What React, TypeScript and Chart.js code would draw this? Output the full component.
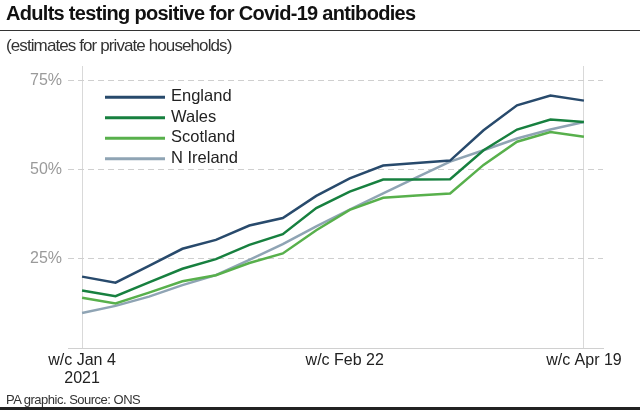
import React, { useEffect, useRef } from "react";
import { Chart, registerables } from "chart.js";

Chart.register(...registerables);

// Weekly survey periods (week commencing)
const weeks = [
  "Jan 4", "Jan 11", "Jan 18", "Jan 25", "Feb 1", "Feb 8", "Feb 15", "Feb 22",
  "Mar 1", "Mar 8", "Mar 15", "Mar 22", "Mar 29", "Apr 5", "Apr 12", "Apr 19",
];

// % of adults testing positive for antibodies
const england = [20.0, 18.3, 23.0, 27.8, 30.3, 34.3, 36.4, 42.6, 47.5, 51.1, 51.8, 52.5, 61.0, 68.0, 70.7, 69.3];
const wales = [16.1, 14.5, 18.4, 22.2, 24.9, 28.9, 31.9, 39.2, 43.8, 47.2, 47.2, 47.3, 55.4, 61.2, 64.0, 63.3];
const scotland = [14.1, 12.5, 15.5, 18.7, 20.4, 23.8, 26.5, 33.0, 38.7, 42.1, 42.7, 43.3, 51.3, 57.8, 60.5, 59.2];
const nIreland = [9.8, 11.8, 14.4, 17.6, 20.4, 24.7, 29.1, 34.1, 38.8, 43.3, 47.8, 52.2, 55.4, 58.7, 61.2, 63.3];

const seriesNames = ["England", "Wales", "Scotland", "N Ireland"];

// x-axis tick labels and where they sit (in weeks from Jan 4)
const xTickWeeks = [0, 7.85, 15];
const xTickLabels: (string | string[])[] = [["w/c Jan 4", "2021"], "w/c Feb 22", "w/c Apr 19"];
const yTicks = [25, 50, 75];

const FONT = "'Liberation Sans', Arial, sans-serif";
const COLORS = ["#284a6c", "#17803f", "#58b04c", "#8fa4b4"];

export default function App() {
  const ref = useRef<HTMLCanvasElement | null>(null);

  useEffect(() => {
    document.body.style.margin = "0";
    const canvas = ref.current;
    if (!canvas) return;

    const legendPlugin = {
      id: "inlineLegend",
      afterDatasetsDraw(chart: any) {
        const { ctx, chartArea } = chart;
        ctx.save();
        chart.data.datasets.forEach((ds: any, i: number) => {
          const y = chartArea.top + 31.3 + i * 20.5;
          ctx.strokeStyle = ds.borderColor;
          ctx.lineWidth = 3;
          ctx.beginPath();
          ctx.moveTo(chartArea.left + 37, y);
          ctx.lineTo(chartArea.left + 97, y);
          ctx.stroke();
          ctx.fillStyle = "#222";
          ctx.font = `16.5px ${FONT}`;
          ctx.textBaseline = "middle";
          ctx.textAlign = "left";
          ctx.fillText(ds.label, chartArea.left + 103, y - 0.5);
        });
        ctx.restore();
      },
    };

    const series = [england, wales, scotland, nIreland];
    const chart = new Chart(canvas, {
      type: "line",
      data: {
        datasets: series.map((vals, si) => ({
          label: seriesNames[si],
          data: vals.map((v, i) => ({ x: weeks.indexOf(weeks[i]), y: v })),
          borderColor: COLORS[si],
          backgroundColor: COLORS[si],
          borderWidth: 2.5,
          pointRadius: 0,
          tension: 0,
          fill: false,
        })),
      },
      options: {
        animation: false,
        responsive: false,
        devicePixelRatio: 1,
        layout: { padding: { top: 66, right: 37, left: 0, bottom: 0 } },
        plugins: {
          legend: { display: false },
          title: { display: false },
          tooltip: { enabled: false },
        },
        scales: {
          x: {
            type: "linear",
            min: -0.42,
            max: 15.57,
            afterBuildTicks: (s: any) => {
              s.ticks = xTickWeeks.map((v) => ({ value: v }));
            },
            afterFit: (s: any) => {
              s.height = 62;
            },
            ticks: {
              autoSkip: false,
              maxRotation: 0,
              padding: 4,
              color: "#222",
              font: { size: 16, family: FONT, lineHeight: 1.1 },
              callback: (_v: any, i: number) => xTickLabels[i],
            },
            grid: {
              drawTicks: false,
              color: (c: any) => (c.index === 1 ? "rgba(0,0,0,0)" : "#d9d9d9"),
              lineWidth: 1,
            },
            border: { display: true, color: "#d0d0d0" },
          },
          y: {
            min: 0,
            max: 79,
            afterBuildTicks: (s: any) => {
              s.ticks = yTicks.map((v) => ({ value: v }));
            },
            afterFit: (s: any) => {
              s.width = 68;
            },
            ticks: {
              padding: 6,
              color: "#9a9a9a",
              font: { size: 16, family: FONT },
              callback: (v: any) => `${v}%`,
            },
            grid: { drawTicks: false, color: "#cfcfcf", lineWidth: 1 },
            border: { display: false, dash: [6, 4] },
          },
        },
      },
      plugins: [legendPlugin],
    } as any);

    return () => chart.destroy();
  }, []);

  return (
    <div style={{ position: "relative", width: 640, height: 410, overflow: "hidden", background: "#fff", fontFamily: FONT }}>
      <canvas ref={ref} width={640} height={410} style={{ position: "absolute", left: 0, top: 0 }} />
      <div style={{ position: "absolute", left: 6, top: 1, fontSize: 20, lineHeight: "24px", fontWeight: 700, color: "#111", letterSpacing: "-0.7px", whiteSpace: "nowrap" }}>
        Adults testing positive for Covid-19 antibodies
      </div>
      <div style={{ position: "absolute", left: 0, top: 30, width: 640, height: 1, background: "#333" }} />
      <div style={{ position: "absolute", left: 6, top: 35.5, fontSize: 17, lineHeight: "20px", color: "#333", letterSpacing: "-0.9px", whiteSpace: "nowrap" }}>
        (estimates for private households)
      </div>
      <div style={{ position: "absolute", left: 6, top: 391.5, fontSize: 13, lineHeight: "16px", color: "#333", letterSpacing: "-0.5px", whiteSpace: "nowrap" }}>
        PA graphic. Source: ONS
      </div>
      <div style={{ position: "absolute", left: 0, top: 407, width: 640, height: 3, background: "#222" }} />
    </div>
  );
}
